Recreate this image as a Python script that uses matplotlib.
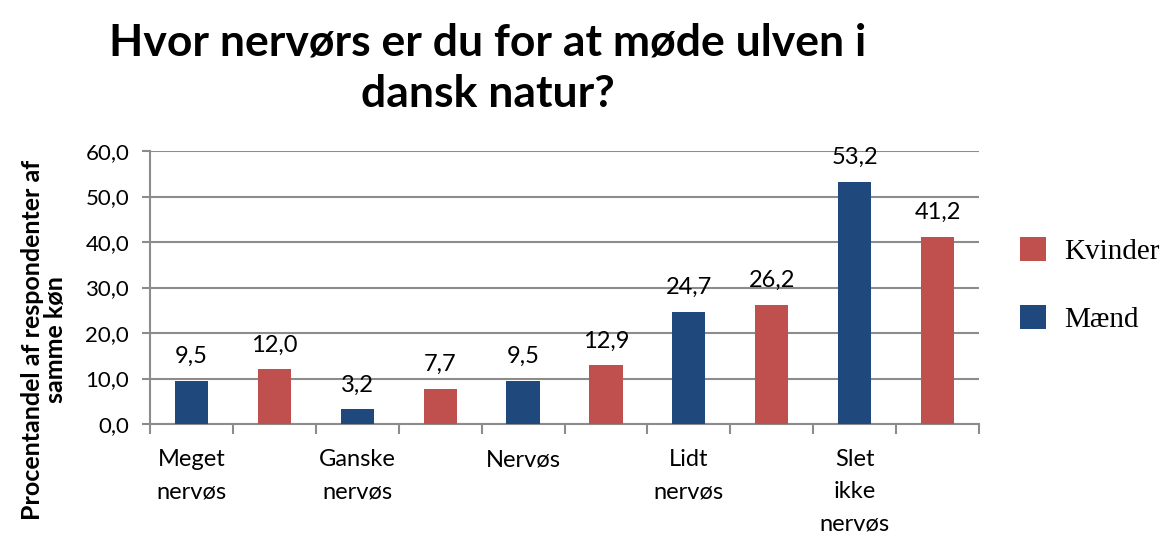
import numpy as np
import matplotlib
matplotlib.use("Agg")
import matplotlib.pyplot as plt

# data
categories = ["Meget\nnervøs", "Ganske\nnervøs", "Nervøs", "Lidt\nnervøs", "Slet\nikke\nnervøs"]
maend = [9.5, 3.2, 9.5, 24.7, 53.2]
kvinder = [12.0, 7.7, 12.9, 26.2, 41.2]
yticks = [0, 10, 20, 30, 40, 50, 60]

blue = "#1F497D"
red = "#C0504D"
grid = "#8C8C8C"

plt.rcParams["font.family"] = ["Lato", "DejaVu Sans"]

fig = plt.figure(figsize=(11.71, 5.33), dpi=100)
ax = fig.add_axes([150/1171, 1-424/533, (979-150)/1171, (424-151)/533])

# each category takes two slots: men then women
pos_m = np.arange(len(categories)) * 2 + 0.5
pos_k = pos_m + 1
w = 0.4
bm = ax.bar(pos_m, maend, w, color=blue, label="Mænd", zorder=3)
bk = ax.bar(pos_k, kvinder, w, color=red, label="Kvinder", zorder=3)

for bars, vals in [(bm, maend), (bk, kvinder)]:
    for b, v in zip(bars, vals):
        ax.text(b.get_x() + b.get_width()/2, v + 3.0, f"{v:.1f}".replace(".", ","),
                ha="center", va="bottom", fontsize=17)

ax.set_xlim(0, 2*len(categories))
ax.set_ylim(0, 60)
ax.set_yticks(yticks)
ax.set_yticklabels([f"{t:.1f}".replace(".", ",") for t in yticks], fontsize=16)
ax.yaxis.grid(True, color=grid, linewidth=1.5, zorder=0)
ax.set_xticks(np.arange(0, 2*len(categories)+1))
ax.set_xticklabels([])
ax.tick_params(axis="x", length=7, color=grid, width=1.5)
ax.tick_params(axis="y", length=6, color=grid, width=1.5, pad=9)
for s in ["top", "right"]:
    ax.spines[s].set_visible(False)
for s in ["left", "bottom"]:
    ax.spines[s].set_color(grid)
    ax.spines[s].set_linewidth(1.5)

for p, c in zip(pos_m, categories):
    ax.text(p, -5.5, c, ha="center", va="top", fontsize=17, linespacing=1.65)

fig.text(488/1171, 1-68/533, "Hvor nervørs er du for at møde ulven i\ndansk natur?",
         ha="center", va="center", fontsize=32, fontweight="bold",
         family=["Lato", "DejaVu Sans"], linespacing=1.35)

fig.text(44/1171, 1-340/533, "Procentandel af respondenter af\nsamme køn", rotation=90,
         ha="center", va="center", fontsize=18, fontweight="bold",
         family=["Lato", "DejaVu Sans"], linespacing=1.0)

handles = [bk, bm]
leg = fig.legend(handles, ["Kvinder", "Mænd"], loc="center left",
                 bbox_to_anchor=(1020/1171, 1-285/533), frameon=False,
                 borderpad=0, borderaxespad=0,
                 prop={"family": "Liberation Serif", "size": 21},
                 handlelength=0.9, handleheight=0.9, labelspacing=1.35, handletextpad=0.6)

fig.savefig("out.png", dpi=100)
